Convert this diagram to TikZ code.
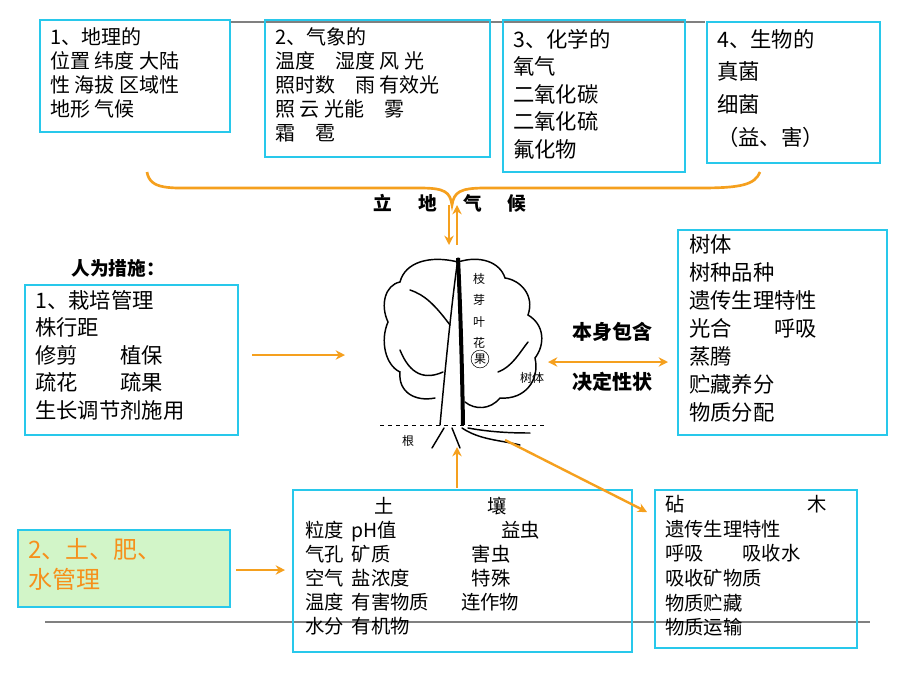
\documentclass[tikz,border=0pt]{standalone}
\usepackage{fontspec}
\setmainfont{Noto Sans CJK SC}
\usetikzlibrary{arrows.meta}
\definecolor{cy}{RGB}{40,200,235}
\definecolor{org}{RGB}{245,160,30}
\definecolor{lg}{RGB}{210,245,200}
\newcommand{\ca}[1]{\makebox[35pt][l]{#1}}
\newcommand{\cb}[1]{\makebox[90pt][l]{#1}}
\tikzset{
 bx/.style={draw=cy,line width=2pt},
 tx/.style={anchor=north west,align=left,inner sep=0pt,font=\fontsize{15}{18}\selectfont},
 oa/.style={draw=org,line width=1.8pt,-{Stealth[length=7pt,width=7pt]}},
 tl/.style={line width=1.1pt,line cap=round},
 bl/.style={font=\bfseries\fontsize{14}{14}\selectfont},
}
\begin{document}
\begin{tikzpicture}[x=0.75pt,y=-0.75pt]
\useasboundingbox (0,0) rectangle (920,690);
\draw[gray,line width=0.8pt] (230,22) -- (705,22);
\draw[gray,line width=0.8pt] (45,622) -- (870,622);
% top boxes
\draw[bx] (40,20) rectangle (230,132);
\node[tx] (t1) at (50,27) {1、地理的\\位置 纬度 大陆\\性 海拔 区域性\\地形 气候};
\draw[bx] (265,20) rectangle (490,157);
\node[tx] (t2) at (275,27) {2、气象的\\温度\quad 湿度 风 光\\照时数\quad 雨 有效光\\照 云 光能\quad 雾\\霜\quad 雹};
\draw[bx] (503,20) rectangle (685,172);
\node[tx,font=\fontsize{16}{20.6}\selectfont] (t3) at (513,29) {3、化学的\\氧气\\二氧化碳\\二氧化硫\\氟化物};
\draw[bx] (707,22) rectangle (880,163);
\node[tx,font=\fontsize{16}{24.5}\selectfont] (t4) at (717,29) {4、生物的\\真菌\\细菌\\（益、害）};
% brace
\draw[org,line width=2pt] (147,172) .. controls (150,190) and (170,188) .. (200,188) -- (420,188) .. controls (445,188) and (450,192) .. (452,205) .. controls (454,192) and (460,188) .. (485,188) -- (700,188) .. controls (740,188) and (755,185) .. (760,172);
\node[bl] (ldq) at (450,203) {立\hspace{1.4em}地\hspace{1.4em}气\hspace{1.4em}候};
\coordinate (a1) at (449,205); \coordinate (a2) at (449,245);
\coordinate (b1) at (457,245); \coordinate (b2) at (457,205);
\draw[oa] (a1) -- (a2);
\draw[oa] (b1) -- (b2);
% left
\node[bl] (rw) at (118,268) {人为措施：};
\draw[bx] (25,285) rectangle (238,435);
\node[tx,font=\fontsize{16}{20.6}\selectfont] (tl) at (35,290) {1、栽培管理\\株行距\\修剪\qquad 植保\\疏花\qquad 疏果\\生长调节剂施用};
% right
\draw[bx] (678,230) rectangle (887,435);
\node[tx,font=\fontsize{16}{21}\selectfont] (tr) at (689,234) {树体\\树种品种\\遗传生理特性\\光合\qquad 呼吸\\蒸腾\\贮藏养分\\物质分配};
% tree
\draw[tl] (440,425) .. controls (446,360) and (452,300) .. (458,258);
\draw[line width=3pt] (463,425) .. controls (462,360) and (460,300) .. (458,258);
\draw[tl] (458,262) .. controls (430,255) and (405,262) .. (400,282) .. controls (385,285) and (380,305) .. (388,322) .. controls (380,340) and (385,365) .. (400,372) .. controls (398,392) and (415,402) .. (435,398);
\draw[tl] (400,350) .. controls (410,375) and (425,380) .. (443,372);
\draw[tl] (458,262) .. controls (480,255) and (500,262) .. (505,278) .. controls (520,280) and (535,295) .. (528,315) .. controls (545,325) and (545,345) .. (535,358) .. controls (540,380) and (525,400) .. (500,398) .. controls (490,410) and (475,410) .. (465,402);
\draw[tl] (498,372) .. controls (512,367) and (520,352) .. (528,342);
\draw[tl] (410,290) .. controls (425,295) and (435,305) .. (450,325);
\draw[line width=0.6pt,dashed] (380,425) -- (545,425);
\draw[tl] (444,428) -- (432,448);
\draw[tl] (452,428) -- (460,448);
\draw[tl] (462,428) .. controls (480,440) and (500,440) .. (520,445);
\draw[tl] (468,428) .. controls (490,432) and (510,433) .. (530,433);
\node[draw,circle,inner sep=0.5pt,font=\fontsize{9}{9}\selectfont] (guo) at (480,359) {果};
\node[font=\fontsize{9}{16}\selectfont,align=center] (zhi) at (479,311) {枝\\芽\\叶\\花};
\node[font=\fontsize{9}{9}\selectfont] (sht) at (532,378) {树体};
\node[font=\fontsize{9}{9}\selectfont] (gen) at (408,441) {根};
% middle arrows
\coordinate (la) at (252,355); \coordinate (lb) at (345,355);
\draw[oa] (la) -- (lb);
\coordinate (da) at (548,362); \coordinate (db) at (668,362);
\draw[oa,{Stealth[length=7pt,width=7pt]}-{Stealth[length=7pt,width=7pt]}] (da) -- (db);
\node[bl,font=\bfseries\fontsize{15}{15}\selectfont] (bs) at (612,332) {本身包含};
\node[bl,font=\bfseries\fontsize{15}{15}\selectfont] (jd) at (612,382) {决定性状};
% soil
\draw[bx] (293,490) rectangle (632,652);
\node[tx,font=\fontsize{14.5}{18}\selectfont] (ts) at (305,497) {\hspace{52pt}土\hspace{70pt}壤\\\ca{粒度}\cb{pH值}\hspace{22pt}益虫\\\ca{气孔}\cb{矿质}害虫\\\ca{空气}\cb{盐浓度}特殊\\\ca{温度}\makebox[82pt][l]{有害物质}连作物\\\ca{水分}有机物};
\coordinate (sa) at (457,488); \coordinate (sb) at (457,447);
\draw[oa] (sa) -- (sb);
\coordinate (ra) at (505,440); \coordinate (rb) at (647,512);
\draw[oa] (ra) -- (rb);
% green
\draw[bx,fill=lg] (18,530) rectangle (230,607);
\node[tx,text=org!90!red,font=\fontsize{18}{22.5}\selectfont] (tg) at (28,538) {2、土、肥、\\水管理};
\coordinate (ga) at (236,570); \coordinate (gb) at (285,570);
\draw[oa] (ga) -- (gb);
% bottom right
\draw[bx] (655,490) rectangle (857,648);
\node[tx,font=\fontsize{14.5}{18.5}\selectfont] (tb) at (665,495) {砧\hspace{92pt}木\\遗传生理特性\\呼吸\qquad 吸收水\\吸收矿物质\\物质贮藏\\物质运输};
\end{tikzpicture}
\end{document}
